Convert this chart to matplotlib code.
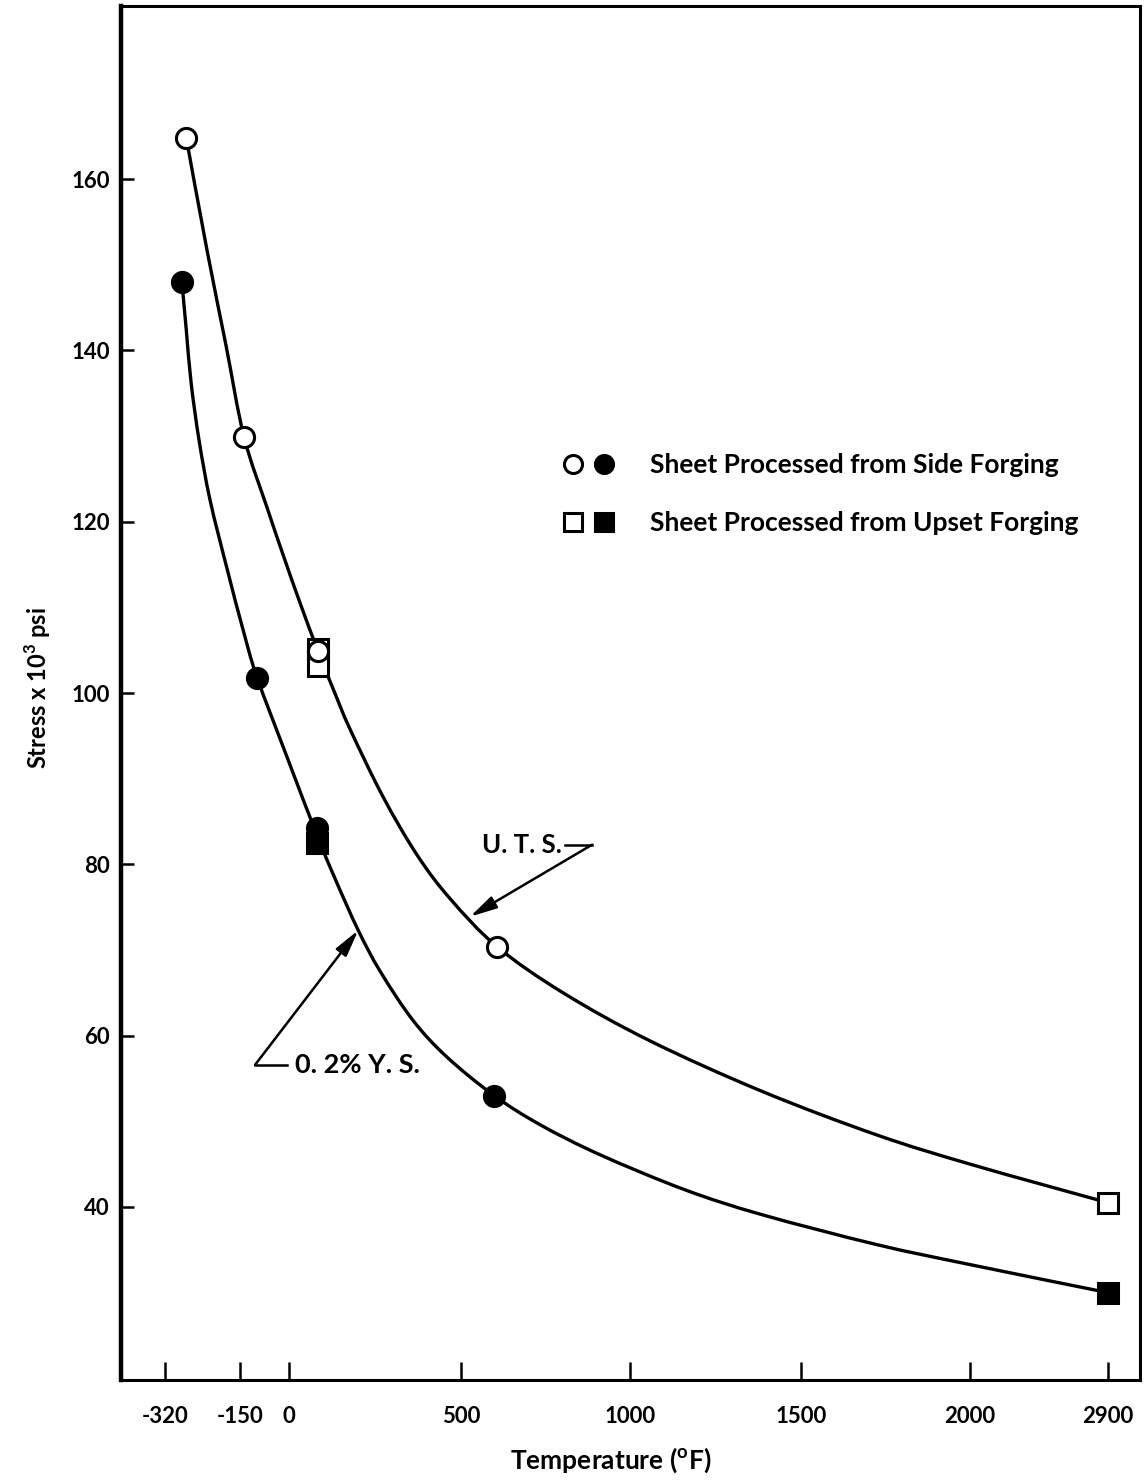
import numpy as np
import matplotlib.pyplot as plt
from matplotlib.lines import Line2D
from matplotlib.path import Path
from matplotlib.patches import PathPatch
from matplotlib.legend_handler import HandlerTuple

plt.rcParams['font.family'] = ['Lato', 'DejaVu Sans']

# tick labels on the (non linear) temperature axis
tick_temps = [-320, -150, 0, 500, 1000, 1500, 2000, 2900]
tick_labels = ['-320', '-150', '0', '500', '1000', '1500', '2000', '2900']
y_ticks = [40, 60, 80, 100, 120, 140, 160]

# measured points (temperature F, stress ksi)
side_open_t = [-272, -138, 84, 606]
side_open_s = [164.8, 129.9, 104.9, 70.4]
side_filled_t = [-282, -98, 81, 598]
side_filled_s = [148.0, 101.8, 84.2, 53.0]
upset_open_t = [84, 84, 2900]
upset_open_s = [105.1, 103.2, 40.5]
upset_filled_t = [81, 2900]
upset_filled_s = [82.5, 30.0]

# hand drawn curves
uts_curve_t = [-272, -225, -182, -138, -67, -18, 32, 84, 134, 177, 273, 372,
               468, 606, 802, 1058, 1386, 1725, 2020, 2900]
uts_curve_s = [164.8, 151.7, 140.6, 129.9, 121.6, 116.1, 110.5, 104.9, 99.9,
               95.8, 87.9, 81.1, 76.0, 70.4, 65.0, 59.4, 53.5, 48.4, 44.9, 40.5]
ys_curve_t = [-282, -272, -261, -243, -218, -179, -141, -98, -6, 81, 134, 201,
              265, 360, 459, 598, 734, 911, 1161, 1386, 1725, 2020, 2900]
ys_curve_s = [148.0, 142.4, 136.2, 129.5, 122.5, 114.4, 107.4, 101.8, 92.5,
              83.4, 78.3, 72.3, 67.5, 61.8, 57.5, 53.0, 49.6, 46.1, 42.0, 39.1,
              35.6, 33.2, 30.0]

# the original axis is stretched unevenly, map temperature -> axis position
knot_t = [-1000, -320, -150, 0, 500, 1000, 1500, 2000, 2900, 6000]
knot_p = [-135, 165, 240, 289, 461, 630, 801, 970, 1108, 1583]


def fwd(t):
    return np.interp(t, knot_t, knot_p)


def inv(p):
    return np.interp(p, knot_p, knot_t)


def smooth_curve(t, s):
    # bezier path through the read points (catmull-rom tangents),
    # built in axis-position space so it looks smooth on screen
    pts = np.column_stack([fwd(np.asarray(t, float)), np.asarray(s, float)])
    n = len(pts)
    verts = [pts[0]]
    codes = [Path.MOVETO]
    for i in range(n - 1):
        p0 = pts[max(i - 1, 0)]
        p1 = pts[i]
        p2 = pts[i + 1]
        p3 = pts[min(i + 2, n - 1)]
        verts += [p1 + (p2 - p0) / 6, p2 - (p3 - p1) / 6, p2]
        codes += [Path.CURVE4] * 3
    verts = np.array(verts)
    verts[:, 0] = inv(verts[:, 0])
    return Path(verts, codes)


fig = plt.figure(figsize=(11.48, 14.81), dpi=100)
ax = fig.add_axes([0.1054, 0.0682, 0.8876, 0.9277])
ax.set_xscale('function', functions=(fwd, inv))
ax.set_xlim(-420, 3109)
ax.set_ylim(19.8, 180.2)

for ct, cs in [(uts_curve_t, uts_curve_s), (ys_curve_t, ys_curve_s)]:
    ax.add_patch(PathPatch(smooth_curve(ct, cs), fill=False, edgecolor='black',
                           lw=2.4, zorder=2))

ms = 14.5
mew = 2.2
ax.plot(upset_open_t, upset_open_s, 's', mfc='white', mec='black', ms=ms, mew=mew, zorder=3)
ax.plot(side_open_t, side_open_s, 'o', mfc='white', mec='black', ms=ms, mew=mew, zorder=4)
ax.plot(upset_filled_t, upset_filled_s, 's', mfc='black', mec='black', ms=ms, mew=mew, zorder=3)
ax.plot(side_filled_t, side_filled_s, 'o', mfc='black', mec='black', ms=ms, mew=mew, zorder=4)

# curve labels with leaders
arrow = dict(arrowstyle='-|>,head_length=0.9,head_width=0.22', color='black',
             lw=1.8, shrinkA=0, shrinkB=0, mutation_scale=18)
ax.text(562, 82.3, 'U. T. S.', fontsize=18.5, fontweight='bold', ha='left', va='center')
ax.plot([808, 888], [82.3, 82.3], color='black', lw=1.8)
ax.annotate('', xy=(527, 73.9), xytext=(888, 82.3), arrowprops=arrow)

ax.text(17, 56.6, '0. 2% Y. S.', fontsize=19.5, fontweight='bold', ha='left', va='center')
ax.plot([-104, -6], [56.6, 56.6], color='black', lw=1.8)
ax.annotate('', xy=(201, 72.3), xytext=(-104, 56.6), arrowprops=arrow)

# legend
h_side = (Line2D([], [], marker='o', ls='none', mfc='white', mec='black', ms=13, mew=mew),
          Line2D([], [], marker='o', ls='none', mfc='black', mec='black', ms=13, mew=mew))
h_upset = (Line2D([], [], marker='s', ls='none', mfc='white', mec='black', ms=13, mew=mew),
           Line2D([], [], marker='s', ls='none', mfc='black', mec='black', ms=13, mew=mew))
ax.legend([h_side, h_upset],
          ['Sheet Processed from Side Forging', 'Sheet Processed from Upset Forging'],
          handler_map={tuple: HandlerTuple(ndivide=None, pad=0)},
          loc='upper left', bbox_to_anchor=(0.428, 0.6745), frameon=False,
          prop={'size': 19, 'weight': 'bold'},
          handlelength=2.35, handletextpad=1.155, labelspacing=1.27,
          borderpad=0, borderaxespad=0)

ax.set_xticks(tick_temps)
ax.set_xticklabels(tick_labels, fontweight='bold')
ax.set_yticks(y_ticks)
ax.set_yticklabels([str(v) for v in y_ticks], fontweight='bold')
ax.minorticks_off()
ax.tick_params(axis='x', direction='in', length=13, width=1.8, pad=19, labelsize=16)
ax.tick_params(axis='y', direction='in', length=9.5, width=1.8, pad=8, labelsize=16)

for s in ax.spines.values():
    s.set_linewidth(2.2)
ax.spines['left'].set_linewidth(3.2)

ax.set_xlabel(r'Temperature ($^{\mathregular{o}}$F)', fontsize=19, fontweight='bold')
ax.xaxis.set_label_coords(0.481, -0.0474)
ax.set_ylabel(r'Stress x 10$^{\mathregular{3}}$ psi', fontsize=17, fontweight='bold')
ax.yaxis.set_label_coords(-0.0667, 0.504)

fig.savefig('out.png', dpi=100)
